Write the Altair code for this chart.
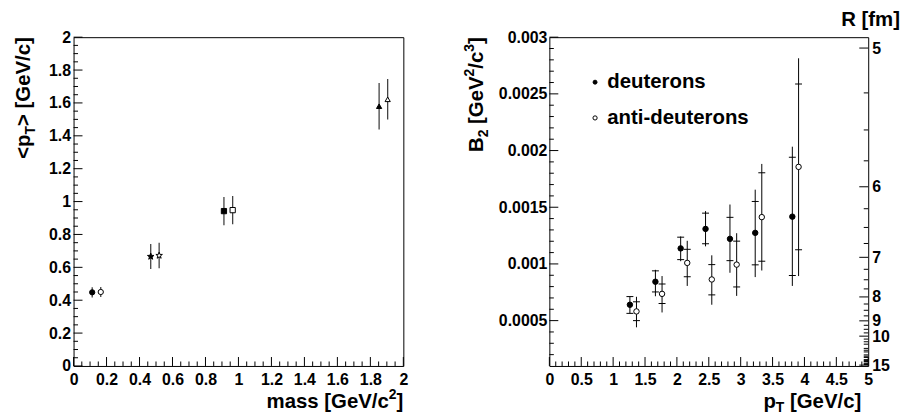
import altair as alt
import pandas as pd

# ---------------- data: left panel (<pT> vs mass) ----------------
lp_mass = [0.113, 0.165, 0.468, 0.519, 0.912, 0.965, 1.853, 1.905]
lp_mean = [0.448, 0.450, 0.666, 0.672, 0.942, 0.948, 1.580, 1.622]
lp_err = [0.031, 0.031, 0.076, 0.078, 0.086, 0.086, 0.141, 0.123]
lp_particle = ["pi", "pi", "K", "K", "p", "p", "d", "d"]
lp_charge = ["pos", "neg", "pos", "neg", "pos", "neg", "pos", "neg"]

# ---------------- data: right panel (B2 vs pT) ----------------
pt_d = [1.263, 1.663, 2.059, 2.449, 2.832, 3.228, 3.810]
b2_d = [0.000640, 0.000843, 0.001137, 0.001309, 0.001221, 0.001274, 0.001417]
tot_lo_d = [0.000564, 0.000715, 0.001024, 0.001155, 0.000922, 0.000884, 0.000806]
tot_hi_d = [0.000712, 0.000948, 0.001242, 0.001466, 0.001524, 0.001655, 0.002034]
sys_lo_d = [0.000564, 0.000753, 0.001038, 0.001178, 0.001029, 0.000992, 0.000898]
sys_hi_d = [0.000712, 0.000939, 0.001236, 0.001448, 0.001411, 0.001551, 0.001941]

pt_a = [1.366, 1.767, 2.162, 2.547, 2.937, 3.331, 3.908]
b2_a = [0.000581, 0.000736, 0.001009, 0.000863, 0.000994, 0.001413, 0.001856]
tot_lo_a = [0.000441, 0.000572, 0.000806, 0.000640, 0.000718, 0.000942, 0.000893]
tot_hi_a = [0.000710, 0.000893, 0.001204, 0.001076, 0.001271, 0.001882, 0.002814]
sys_lo_a = [0.000500, 0.000651, 0.000887, 0.000727, 0.000797, 0.001024, 0.001125]
sys_hi_a = [0.000666, 0.000823, 0.001129, 0.000994, 0.001201, 0.001804, 0.002587]

series_names = ["deuterons", "anti-deuterons"]

# tick values
left_major = [round(0.2 * i, 2) for i in range(11)]
left_minor = [round(0.05 * i, 2) for i in range(41) if i % 4]
pt_major = [round(0.5 * i, 2) for i in range(11)]
pt_minor = [round(0.1 * i, 2) for i in range(51) if i % 5]
b2_major = [0.0005, 0.001, 0.0015, 0.002, 0.0025, 0.003]
b2_minor = [round(0.0001 * i, 5) for i in range(2, 31) if i % 5]
R_major = [5, 6, 7, 8, 9, 10, 15]
R_minor = [5 + 0.25 * i for i in range(41) if i % 4]
R_CONST = 0.363  # B2 = R_CONST / R^3

FONT = "Liberation Sans"
TITLE_SIZE = 20.5
SUB_SIZE = 14
LABEL_SIZE = 16
MAJ, MIN = 9, 4.5

W_L, H_L = 332, 331
W_R, H_R = 321, 331

CHAR_W = {" ": 278, "<": 584, ">": 584, "[": 333, "]": 333, "/": 278, "-": 333,
          ".": 278, "B": 722, "G": 778, "R": 722, "T": 611, "V": 667,
          "a": 556, "c": 556, "e": 556, "f": 333, "m": 889, "p": 611, "s": 556}


def tw(s, size):
    return sum(CHAR_W.get(ch, 556) for ch in s) * size / 1000.0


def lab_axis(orient, values, fmt=None, expr=None, pad=3):
    kw = dict(orient=orient, values=values, ticks=False, tickSize=0, offset=0,
              domain=False, grid=False, title=None,
              labelFont=FONT, labelFontSize=LABEL_SIZE, labelFontWeight="bold",
              labelColor="black", labelPadding=pad, labelOverlap=False, labelFlush=False)
    if fmt:
        kw["format"] = fmt
    if expr:
        kw["labelExpr"] = expr
    return alt.Axis(**kw)


def one():
    return alt.Chart(pd.DataFrame({"k": [0]}))


def rich(pieces, x, y, angle=0, end=True):
    """pieces: list of (text, size, shift). Anchored so the text ENDS at (x, y) when end=True."""
    total = sum(tw(t, s) for t, s, _ in pieces)
    pos = -total if end else 0.0
    layers = []
    for t, s, sh in pieces:
        lead = len(t) - len(t.lstrip(" "))
        pos += tw(" " * lead, s)
        layers.append(
            one().mark_text(
                text=t.strip(" "), font=FONT, fontSize=s, fontWeight="bold", color="black",
                align="left", baseline="alphabetic", angle=angle,
                dx=pos, dy=sh,
            ).encode(x=alt.value(x), y=alt.value(y))
        )
        pos += tw(t.lstrip(" "), s)
    return layers


def xticks(values, scale, h, length):
    """inward ticks on the bottom edge, placed through the x scale"""
    return alt.Chart(pd.DataFrame({"v": values})).mark_rule(color="black", strokeWidth=1).encode(
        x=alt.X("v:Q", scale=scale, axis=None), y=alt.value(h), y2=alt.value(h - length))


def yticks(values, scale, x0, length, calc=None):
    """inward ticks on a vertical edge, placed through the y scale"""
    ch = alt.Chart(pd.DataFrame({"v": values}))
    field = "v"
    if calc:
        ch = ch.transform_calculate(b=calc)
        field = "b"
    return ch.mark_rule(color="black", strokeWidth=1).encode(
        y=alt.Y(field + ":Q", scale=scale, axis=None), x=alt.value(x0), x2=alt.value(x0 + length))


# ---------------- left panel ----------------
left_df = pd.DataFrame({"mass": lp_mass, "mean": lp_mean, "err": lp_err,
                        "particle": lp_particle, "charge": lp_charge})
xs_l = alt.Scale(domain=[0, 2], nice=False, zero=False)
ys_l = alt.Scale(domain=[0, 2], nice=False, zero=False)
base_l = alt.Chart(left_df)

l_err = base_l.transform_calculate(
    lo="datum.mean - datum.err", hi="datum.mean + datum.err"
).mark_rule(color="#333333", strokeWidth=1.2).encode(
    x=alt.X("mass:Q", scale=xs_l, axis=lab_axis("bottom", left_major, fmt="~g", pad=5.5)),
    y=alt.Y("lo:Q", scale=ys_l, axis=lab_axis("left", left_major, fmt="~g", pad=3)),
    y2="hi:Q",
)

star = ("M0,-1.3L0.306,-0.421L1.236,-0.402L0.494,0.161L0.764,1.052L0,0.52L-0.764,1.052"
        "L-0.494,0.161L-1.236,-0.402L-0.306,-0.421Z")

l_pts = base_l.mark_point(filled=True, stroke="black", strokeWidth=1, opacity=1).encode(
    x=alt.X("mass:Q", scale=xs_l, axis=None),
    y=alt.Y("mean:Q", scale=ys_l, axis=None),
    shape=alt.Shape("particle:N", scale=alt.Scale(domain=["pi", "K", "p", "d"],
                                                  range=["circle", star, "square", "triangle-up"]),
                    legend=None),
    fill=alt.Fill("charge:N", scale=alt.Scale(domain=["pos", "neg"], range=["black", "white"]),
                  legend=None),
    size=alt.value(28),
)

l_ticks = [
    xticks(left_major, xs_l, H_L, MAJ), xticks(left_minor, xs_l, H_L, MIN),
    yticks(left_major, ys_l, 0, MAJ), yticks(left_minor, ys_l, 0, MIN),
]

l_titles = rich([("mass [GeV/c", TITLE_SIZE, 0), ("2", SUB_SIZE, -9), ("]", TITLE_SIZE, 0)],
                W_L, H_L + 42)
l_titles += rich([("<p", TITLE_SIZE, 0), ("T", SUB_SIZE, 5), ("> [GeV/c]", TITLE_SIZE, 0)],
                 -44, 0, angle=270)

left = alt.layer(l_err, l_pts, *l_ticks, *l_titles).resolve_axis(
    x="independent", y="independent"
).properties(width=W_L, height=H_L)

# ---------------- right panel ----------------
right_df = pd.DataFrame({
    "pt": pt_d + pt_a,
    "b2": b2_d + b2_a,
    "tlo": tot_lo_d + tot_lo_a,
    "thi": tot_hi_d + tot_hi_a,
    "slo": sys_lo_d + sys_lo_a,
    "shi": sys_hi_d + sys_hi_a,
    "series": [series_names[0]] * len(pt_d) + [series_names[1]] * len(pt_a),
})
xs_r = alt.Scale(domain=[0, 5], nice=False, zero=False)
ys_r = alt.Scale(domain=[0.0001, 0.003], nice=False, zero=False)
base_r = alt.Chart(right_df)

r_calc = "%g / pow(datum.v, 3)" % R_CONST
r_expr = "format(pow(%g / datum.value, 1/3), '.0f')" % R_CONST

r_err = base_r.mark_rule(color="black", strokeWidth=1).encode(
    x=alt.X("pt:Q", scale=xs_r, axis=lab_axis("bottom", pt_major, fmt="~g", pad=5.5)),
    y=alt.Y("tlo:Q", scale=ys_r, axis=lab_axis("left", b2_major, fmt="~g", pad=2.5)),
    y2="thi:Q",
)
r_cap_lo = base_r.mark_tick(orient="horizontal", size=7, thickness=1, color="black", opacity=1).encode(
    x=alt.X("pt:Q", scale=xs_r, axis=None),
    y=alt.Y("slo:Q", scale=ys_r, axis=None),
)
r_cap_hi = base_r.mark_tick(orient="horizontal", size=7, thickness=1, color="black", opacity=1).encode(
    x=alt.X("pt:Q", scale=xs_r, axis=None),
    y=alt.Y("shi:Q", scale=ys_r, axis=None),
)
r_pts = base_r.mark_point(filled=True, stroke="black", strokeWidth=1, opacity=1, size=30).encode(
    x=alt.X("pt:Q", scale=xs_r, axis=None),
    y=alt.Y("b2:Q", scale=ys_r,
            axis=lab_axis("right", [R_CONST / r ** 3 for r in R_major], expr=r_expr, pad=3.5)),
    fill=alt.Fill("series:N",
                  scale=alt.Scale(domain=series_names, range=["black", "transparent"]),
                  legend=None),
)

r_ticks = [
    xticks(pt_major, xs_r, H_R, MAJ), xticks(pt_minor, xs_r, H_R, MIN),
    yticks(b2_major, ys_r, 0, MAJ), yticks(b2_minor, ys_r, 0, MIN),
    yticks(R_major, ys_r, W_R - MAJ, MAJ, calc=r_calc),
    yticks(R_minor, ys_r, W_R - MIN, MIN, calc=r_calc),
]

# legend (ROOT style: no frame)
leg_sym = [
    one().mark_point(filled=True, fill="black", stroke="black", strokeWidth=1, size=16,
                     shape="circle", opacity=1).encode(x=alt.value(46), y=alt.value(45.3)),
    one().mark_point(filled=True, fill="white", stroke="black", strokeWidth=1, size=18,
                     shape="circle", opacity=1).encode(x=alt.value(46), y=alt.value(81.3)),
]
leg_txt = rich([(series_names[0], TITLE_SIZE, 0)], 58.3, 51, end=False)
leg_txt += rich([(series_names[1], TITLE_SIZE, 0)], 58.3, 87, end=False)

r_titles = rich([("p", TITLE_SIZE, 0), ("T", SUB_SIZE, 4), (" [GeV/c]", TITLE_SIZE, 0)],
                W_R - 7, H_R + 42)
r_titles += rich([("B", TITLE_SIZE, 0), ("2", SUB_SIZE, 5), (" [GeV", TITLE_SIZE, 0),
                  ("2", SUB_SIZE, -9), ("/c", TITLE_SIZE, 0), ("3", SUB_SIZE, -9),
                  ("]", TITLE_SIZE, 0)],
                 -67, 0, angle=270)
r_titles += rich([("R [fm]", TITLE_SIZE, 0)], W_R + 32, -11)

right = alt.layer(r_err, r_cap_lo, r_cap_hi, r_pts, *r_ticks, *leg_sym, *leg_txt,
                  *r_titles).resolve_axis(
    x="independent", y="independent"
).properties(width=W_R, height=H_R)

chart = alt.hconcat(left, right, spacing=147, bounds="flush").configure_view(
    stroke="black", strokeWidth=1
).properties(
    background="white",
    padding={"left": 5, "top": 0, "right": 0, "bottom": 0},
)

chart.save("out.html", embed_options={"renderer": "svg", "actions": False})
